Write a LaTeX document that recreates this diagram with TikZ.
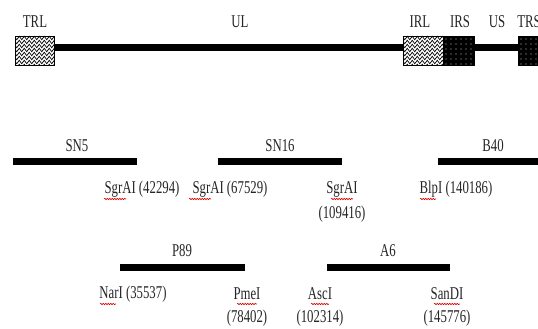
\documentclass[tikz,border=0pt]{standalone}
\usepackage{fontspec}
\setmainfont{Liberation Serif}
\usetikzlibrary{decorations.pathmorphing}
\newcommand{\nq}[1]{\scalebox{0.71}[1]{#1}}
\tikzset{
  lbl/.style={inner sep=0pt, font=\fontsize{18}{20}\selectfont, text=black!85},
  bar/.style={line width=7pt},
  spell/.style={red!85!black, line width=0.6pt, decorate, decoration={snake, amplitude=0.7pt, segment length=2.5pt}},
  zig/.style={line width=0.7pt, decorate, decoration={zigzag, segment length=5pt, amplitude=1.7pt}},
}
\begin{document}
\begin{tikzpicture}[x=1pt,y=-1pt]
\clip (0,0) rectangle (538,329);
\fill[white] (0,0) rectangle (538,329);
% genome line
\draw[bar] (54,48) -- (518,48);
% zigzag boxes (TRL, IRL)
\foreach \xa/\xb in {15/54, 403/443} {
  \begin{scope}
    \clip (\xa,36) rectangle (\xb,65);
    \fill[white] (\xa,36) rectangle (\xb,65);
    \foreach \yy in {38,42,...,66} {
      \draw[zig] (\xa-2,\yy) -- (\xb+2,\yy);
    }
  \end{scope}
  \draw[line width=0.8pt] (\xa,36) rectangle (\xb,65);
}
% dotted black boxes (IRS, TRS)
\foreach \xa/\xb in {443/474, 518/545} {
  \begin{scope}
    \clip (\xa,36) rectangle (\xb,65);
    \fill[black] (\xa,36) rectangle (\xb,65);
    \foreach \xx in {0,5,...,30} {
      \foreach \yy in {39,44,...,64} {
        \fill[white!75!black] (\xa+3+\xx,\yy) circle (0.6);
      }
    }
  \end{scope}
  \draw[line width=0.8pt] (\xa,36) rectangle (\xb,65);
}
% top labels
\node[lbl] (trl) at (35,22) {\nq{TRL}};
\node[lbl] (ul) at (240,22) {\nq{UL}};
\node[lbl] (irl) at (420,22) {\nq{IRL}};
\node[lbl] (irs) at (460,22) {\nq{IRS}};
\node[lbl] (us) at (497,22) {\nq{US}};
\node[lbl] (trs) at (529,22) {\nq{TRS}};
% fragment bars
\draw[bar] (13,161) -- (137,161);
\draw[bar] (218,161) -- (342,161);
\draw[bar] (438,161) -- (545,161);
\draw[bar] (120,267) -- (245,267);
\draw[bar] (327,267) -- (450,267);
\node[lbl] (sn5) at (77,146) {\nq{SN5}};
\node[lbl] (sn16) at (280,146) {\nq{SN16}};
\node[lbl] (b40) at (493,146) {\nq{B40}};
\node[lbl] (p89) at (182,251) {\nq{P89}};
\node[lbl] (a6) at (388,251) {\nq{A6}};
% site labels
\node[lbl] (s1) at (142,189) {\nq{SgrAI (42294)}};
\node[lbl] (s2) at (230,189) {\nq{SgrAI (67529)}};
\node[lbl] (s3) at (342,189) {\nq{SgrAI}};
\node[lbl] (s3b) at (342,214) {\nq{(109416)}};
\node[lbl] (s4) at (456,189) {\nq{BlpI (140186)}};
\node[lbl] (s5) at (133,294) {\nq{NarI (35537)}};
\node[lbl] (s6) at (247,294) {\nq{PmeI}};
\node[lbl] (s6b) at (247,318) {\nq{(78402)}};
\node[lbl] (s7) at (320,294) {\nq{AscI}};
\node[lbl] (s7b) at (320,318) {\nq{(102314)}};
\node[lbl] (s8) at (447,294) {\nq{SanDI}};
\node[lbl] (s8b) at (447,318) {\nq{(145776)}};
% spell-check underlines
\draw[spell] (104,199) -- (126,199);
\draw[spell] (189,199) -- (211,199);
\draw[spell] (331,199) -- (353,199);
\draw[spell] (420,199) -- (436,199);
\draw[spell] (100,304) -- (116,304);
\draw[spell] (237,304) -- (257,304);
\draw[spell] (311,304) -- (329,304);
\draw[spell] (434,304) -- (460,304);
\end{tikzpicture}
\end{document}
